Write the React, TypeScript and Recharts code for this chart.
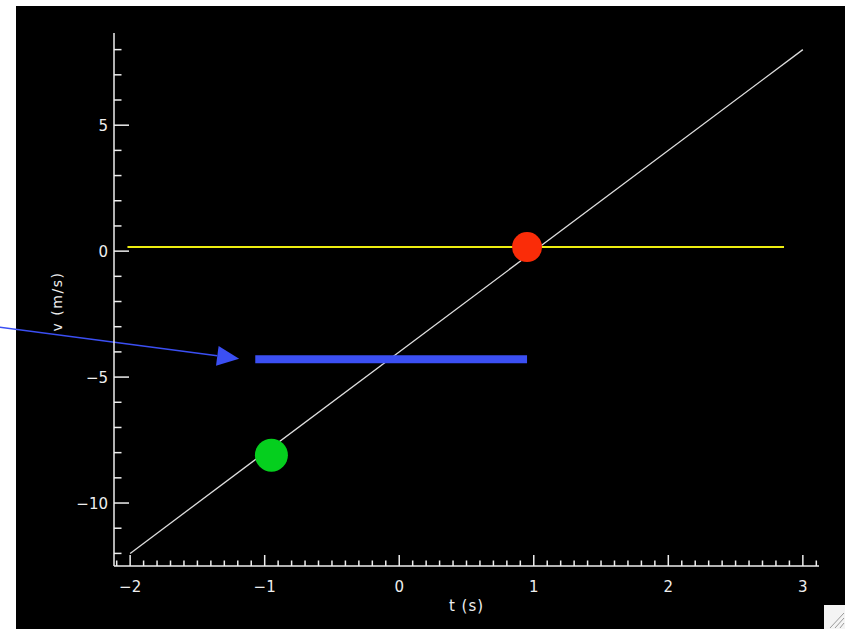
import React from "react";
import {
  ComposedChart,
  Line,
  Scatter,
  XAxis,
  YAxis,
  ReferenceLine,
  Label,
} from "recharts";

// v(t) line and the markers drawn on top of it
const lineT = [-2, 3];
const lineV = [-12, 8];
const flatT = [-2.02, 2.86];
const flatV = [0.16, 0.16];
const barT = [-1.07, 0.95];
const barV = [-4.29, -4.29];
const redDot = [{ t: 0.95, v: 0.16 }];
const greenDot = [{ t: -0.95, v: -8.1 }];
const arrowPath = [
  { x: -2.97, y: -3.02 },
  { x: -1.19, y: -4.27 },
];

// axes
const xMajorTicks = [-2, -1, 0, 1, 2, 3];
const yMajorTicks = [-10, -5, 0, 5];
const xDomain = [-2.12, 3.12];
const yDomain = [-12.5, 8.66];
const xMinor = { from: -2.1, to: 3.1, step: 0.1 };
const yMinor = { from: -12, to: 8, step: 1 };

const AXIS = "#eeeeee";
const BLUE = "#3b4ff3";
const FONT = "'DejaVu Sans', sans-serif";

const range = ({ from, to, step }: { from: number; to: number; step: number }) => {
  const out: number[] = [];
  const n = Math.round((to - from) / step);
  for (let i = 0; i <= n; i++) out.push(Math.round((from + i * step) * 1000) / 1000);
  return out;
};

const xTicks = range(xMinor);
const yTicks = range(yMinor);

const toRows = (ts: number[], vs: number[]) => ts.map((t, i) => ({ t, v: vs[i] }));
const mainData = toRows(lineT, lineV);
const flatData = toRows(flatT, flatV);
const barData = toRows(barT, barV);

const isMajor = (v: number, majors: number[]) => majors.some((m) => Math.abs(m - v) < 1e-6);
const fmt = (v: number) => (v < 0 ? "\u2212" + Math.abs(v) : String(v));

function XTick({ x, y, payload }: any) {
  const major = isMajor(payload.value, xMajorTicks);
  return (
    <g>
      <line x1={x} y1={y} x2={x} y2={y - (major ? 11 : 5.5)} stroke={AXIS} strokeWidth={1.5} />
      {major && (
        <text x={x} y={y + 26} textAnchor="middle" fill={AXIS} fontSize={15} fontFamily={FONT}>
          {fmt(payload.value)}
        </text>
      )}
    </g>
  );
}

function YTick({ x, y, payload }: any) {
  const major = isMajor(payload.value, yMajorTicks);
  return (
    <g>
      <line x1={x} y1={y} x2={x + (major ? 15 : 7.5)} y2={y} stroke={AXIS} strokeWidth={1.5} />
      {major && (
        <text x={x - 6} y={y + 5.5} textAnchor="end" fill={AXIS} fontSize={15} fontFamily={FONT}>
          {fmt(payload.value)}
        </text>
      )}
    </g>
  );
}

function YTitle({ viewBox }: any) {
  const cx = viewBox.x + 57;
  const cy = viewBox.y + viewBox.height / 2 + 2;
  return (
    <text
      x={cx}
      y={cy}
      transform={`rotate(-90, ${cx}, ${cy})`}
      textAnchor="middle"
      dominantBaseline="central"
      fill={AXIS}
      fontSize={14}
      fontFamily={FONT}
      letterSpacing={1.5}
    >
      v (m/s)
    </text>
  );
}

function Arrow({ x1, y1, x2, y2 }: any) {
  const len = Math.hypot(x2 - x1, y2 - y1);
  const ux = (x2 - x1) / len;
  const uy = (y2 - y1) / len;
  const bx = x2 - ux * 22;
  const by = y2 - uy * 22;
  const pts = `${x2},${y2} ${bx - uy * 10},${by + ux * 10} ${bx + uy * 10},${by - ux * 10}`;
  return (
    <g>
      <line x1={x1} y1={y1} x2={bx} y2={by} stroke={BLUE} strokeWidth={1.6} />
      <polygon points={pts} fill={BLUE} />
    </g>
  );
}

const dot = (r: number, fill: string) => (p: any) => <circle cx={p.cx} cy={p.cy} r={r} fill={fill} />;

export default function App() {
  return (
    <div style={{ position: "relative", width: 845, height: 629, background: "#fff", overflow: "hidden" }}>
      <style>{"body{margin:0}"}</style>
      <div style={{ position: "absolute", left: 16, top: 6, right: 0, bottom: 0, background: "#000" }} />
      <div style={{ position: "absolute", left: 0, top: 0 }}>
        <ComposedChart width={845} height={629} margin={{ top: 33, right: 26, bottom: 33, left: 0 }}>
          <XAxis
            dataKey="t"
            type="number"
            domain={xDomain}
            allowDataOverflow
            ticks={xTicks}
            interval={0}
            tickSize={0}
            tickMargin={0}
            tick={<XTick />}
            axisLine={{ stroke: AXIS, strokeWidth: 1.5 }}
            height={30}
          >
            <Label
              value="t (s)"
              position="bottom"
              offset={4}
              fill={AXIS}
              fontSize={15}
              fontFamily={FONT}
              letterSpacing={1}
            />
          </XAxis>
          <YAxis
            dataKey="v"
            type="number"
            domain={yDomain}
            allowDataOverflow
            ticks={yTicks}
            interval={0}
            tickSize={0}
            tickMargin={0}
            tick={<YTick />}
            axisLine={{ stroke: AXIS, strokeWidth: 1.5 }}
            width={114}
          >
            <Label content={<YTitle />} />
          </YAxis>
          <Line
            data={mainData}
            dataKey="v"
            stroke="#dddddd"
            strokeWidth={1.3}
            dot={false}
            activeDot={false}
            isAnimationActive={false}
          />
          <Line
            data={flatData}
            dataKey="v"
            stroke="#eeee10"
            strokeWidth={2}
            dot={false}
            activeDot={false}
            isAnimationActive={false}
          />
          <Line
            data={barData}
            dataKey="v"
            stroke={BLUE}
            strokeWidth={8}
            dot={false}
            activeDot={false}
            isAnimationActive={false}
          />
          <Scatter data={redDot} dataKey="v" shape={dot(15, "#fa2c08")} isAnimationActive={false} />
          <Scatter data={greenDot} dataKey="v" shape={dot(16.5, "#05cf1e")} isAnimationActive={false} />
          <ReferenceLine segment={arrowPath} ifOverflow="visible" shape={<Arrow />} />
        </ComposedChart>
      </div>
      <svg
        width={21}
        height={24}
        style={{ position: "absolute", left: 824, top: 605 }}
      >
        <rect x={0} y={0} width={21} height={24} fill="#f4f4f4" />
        <line x1={6} y1={23} x2={20} y2={8} stroke="#9a9a9a" strokeWidth={1} />
        <line x1={11} y1={23} x2={20} y2={13} stroke="#9a9a9a" strokeWidth={1} />
        <line x1={16} y1={23} x2={20} y2={18} stroke="#9a9a9a" strokeWidth={1} />
      </svg>
    </div>
  );
}
